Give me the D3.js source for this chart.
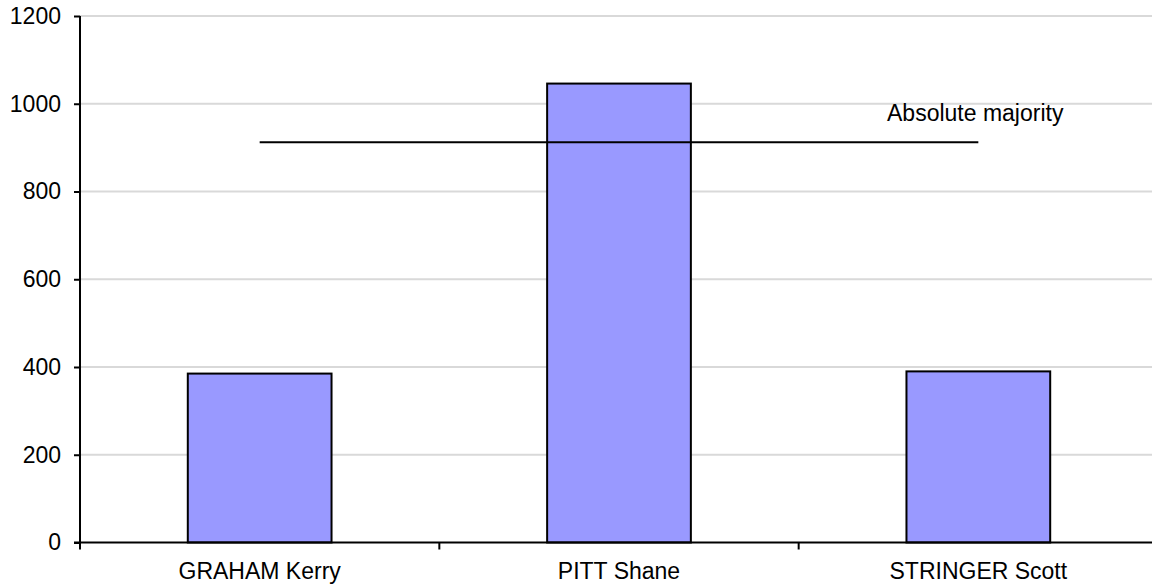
<!DOCTYPE html>
<html>
<head>
<meta charset="utf-8">
<script src="https://cdn.jsdelivr.net/npm/d3@7"></script>
<style>
html,body{margin:0;padding:0;background:#fff;}
svg{display:block;font-family:"Liberation Sans",Arial,sans-serif;}
</style>
</head>
<body>
<svg id="chart" width="1152" height="584"></svg>
<script>
const categories = ["GRAHAM Kerry", "PITT Shane", "STRINGER Scott"];
const votes = [385, 1046, 390];
const majorityValue = 912;
const majorityLabel = "Absolute majority";
const yTicks = [0, 200, 400, 600, 800, 1000, 1200];

const svg = d3.select("#chart");
const mLeft = 80, mRight = 1158, mTop = 16, mBottom = 542.5;
const fs = 23;

const x = d3.scaleBand().domain(categories).range([mLeft, mRight]).paddingInner(0.6).paddingOuter(0.3);
const xb = d3.scaleBand().domain(categories).range([mLeft, mRight]);
const y = d3.scaleLinear().domain([0, 1200]).range([mBottom, mTop]);

// gridlines
svg.append("g").selectAll("line").data(yTicks.filter(d => d > 0)).join("line")
  .attr("x1", mLeft).attr("x2", 1152)
  .attr("y1", d => y(d)).attr("y2", d => y(d))
  .attr("stroke", "#d9d9d9").attr("stroke-width", 1.8);

// bars
svg.append("g").selectAll("rect").data(votes).join("rect")
  .attr("x", (d, i) => x(categories[i]))
  .attr("y", d => y(d))
  .attr("width", x.bandwidth())
  .attr("height", d => y(0) - y(d))
  .attr("fill", "#9999ff").attr("stroke", "#000").attr("stroke-width", 2);

// majority line
svg.append("line")
  .attr("x1", xb(categories[0]) + xb.bandwidth() / 2)
  .attr("x2", xb(categories[2]) + xb.bandwidth() / 2)
  .attr("y1", y(majorityValue)).attr("y2", y(majorityValue))
  .attr("stroke", "#000").attr("stroke-width", 2);
svg.append("text")
  .attr("x", 887).attr("y", y(majorityValue) - 21)
  .attr("font-size", fs).attr("fill", "#000")
  .text(majorityLabel);

// y axis
const yAxis = d3.axisLeft(y).tickValues(yTicks).tickFormat(d3.format("d")).tickSizeOuter(0).tickSize(6).tickPadding(13);
const gy = svg.append("g").attr("transform", `translate(${mLeft},0)`).call(yAxis);
gy.select(".domain").attr("stroke-width", 2).attr("d", `M0,${mTop}V${mBottom + 6}`);
gy.selectAll(".tick line").attr("stroke-width", 2);
gy.selectAll("text").attr("font-size", fs).attr("font-family", "Liberation Sans, Arial, sans-serif").attr("fill", "#000");

// x axis
const gx = svg.append("g").attr("transform", `translate(0,${mBottom})`);
gx.append("line").attr("x1", mLeft - 6).attr("x2", 1152).attr("y1", 0).attr("y2", 0)
  .attr("stroke", "#000").attr("stroke-width", 2);
gx.selectAll("line.t").data(categories).join("line").attr("class", "t")
  .attr("x1", d => xb(d)).attr("x2", d => xb(d))
  .attr("y1", 0).attr("y2", 7).attr("stroke", "#000").attr("stroke-width", 2);
gx.selectAll("text").data(categories).join("text")
  .attr("x", d => xb(d) + xb.bandwidth() / 2).attr("y", 36)
  .attr("text-anchor", "middle").attr("font-size", fs).attr("fill", "#000")
  .text(d => d);
</script>
</body>
</html>
